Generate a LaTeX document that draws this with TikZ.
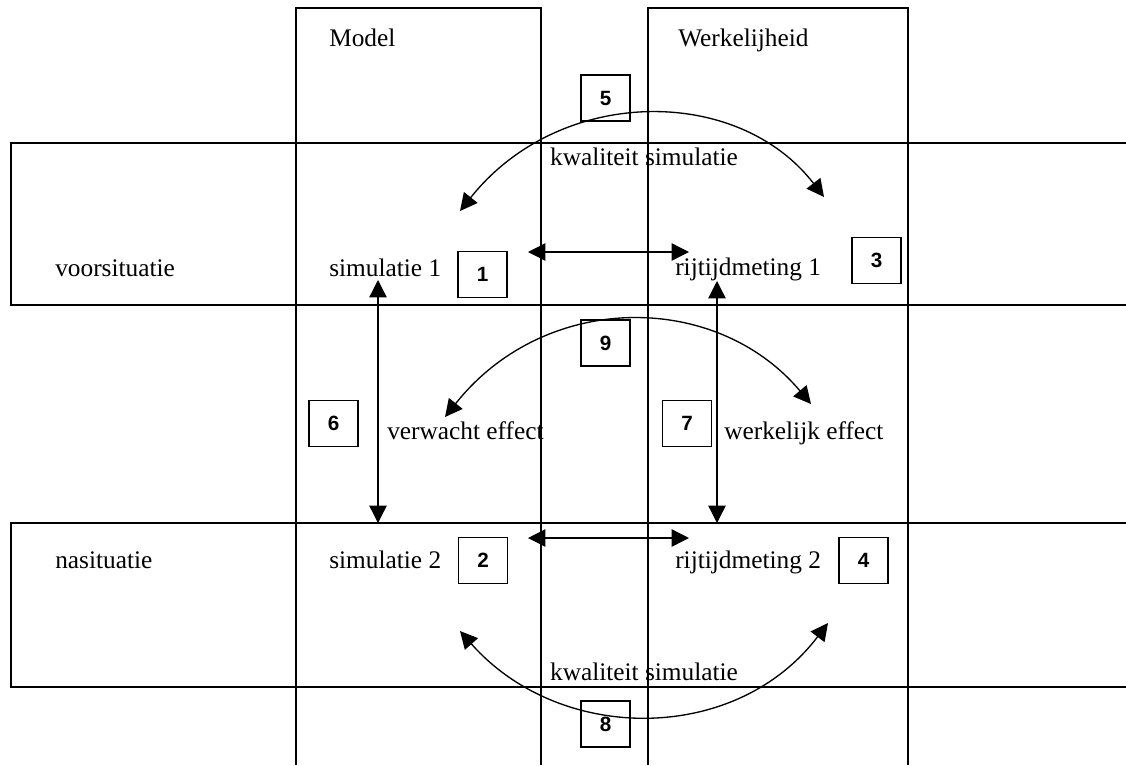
\documentclass[tikz,border=0pt]{standalone}
\usepackage{fontspec}
\setmainfont{Liberation Serif}
\newfontfamily\numfont{Liberation Sans}
\usetikzlibrary{arrows.meta}
\begin{document}
\begin{tikzpicture}[x=0.75pt,y=-0.75pt,
  frame/.style={line width=1pt},
  lbl/.style={anchor=base west,inner sep=0pt,font=\fontsize{19}{22}\selectfont},
  mid/.style={anchor=base,inner sep=0pt,font=\fontsize{19}{22}\selectfont},
  numbox/.style={draw,line width=1pt,minimum width=36.75pt,minimum height=34.5pt,
    inner sep=0pt,font=\numfont\bfseries\fontsize{15.5}{17}\selectfont},
  link/.style={line width=1pt,
    {Triangle[length=13pt,width=13pt]}-{Triangle[length=13pt,width=13pt]}}
]
\useasboundingbox (0,0) rectangle (1126,765);

% columns (open at the bottom)
\draw[frame] (296,765) -- (296,8) -- (541,8) -- (541,765);
\draw[frame] (648,765) -- (648,8) -- (908,8) -- (908,765);
% rows (open at the right)
\draw[frame] (1126,143) -- (11,143) -- (11,305) -- (1126,305);
\draw[frame] (1126,523) -- (11,523) -- (11,687) -- (1126,687);

% headings
\node[lbl] (model) at (329,46.7) {Model};
\node[lbl] (werk) at (678,46.7) {Werkelijheid};
\node[lbl] (voor) at (55,276) {voorsituatie};
\node[lbl] (na) at (55,568) {nasituatie};

% cell texts
\node[lbl] (sim1) at (329,276) {simulatie 1};
\node[lbl] (rij1) at (675,275) {rijtijdmeting 1};
\node[lbl] (sim2) at (329,568) {simulatie 2};
\node[lbl] (rij2) at (675,568) {rijtijdmeting 2};
\node[lbl] (verw) at (387,439) {verwacht effect};
\node[lbl] (werkeff) at (724,439) {werkelijk effect};
\node[mid] (kwal1) at (644,165) {kwaliteit simulatie};
\node[mid] (kwal2) at (644,680) {kwaliteit simulatie};

% numbered boxes
\node[numbox] (n1) at (482.5,274.5) {1};
\node[numbox] (n2) at (483,560.5) {2};
\node[numbox] (n3) at (876.5,260.5) {3};
\node[numbox] (n4) at (863.5,560.5) {4};
\node[numbox] (n5) at (605.5,98) {5};
\node[numbox] (n6) at (333.5,423.5) {6};
\node[numbox] (n7) at (687,423.5) {7};
\node[numbox] (n8) at (605.5,724) {8};
\node[numbox] (n9) at (605.5,343) {9};

% arrow end points
\coordinate (h1a) at (528,252);
\coordinate (h1b) at (689,252);
\coordinate (h2a) at (528,538);
\coordinate (h2b) at (689,538);
\coordinate (v6a) at (378,280);
\coordinate (v6b) at (378,523);
\coordinate (v7a) at (717,281);
\coordinate (v7b) at (717,523);
\coordinate (c5a) at (460,211);
\coordinate (c5b) at (824,197);
\coordinate (c9a) at (445,417);
\coordinate (c9b) at (811,404);
\coordinate (c8a) at (460,631);
\coordinate (c8b) at (828,623);

% comparisons between model and reality
\draw[link] (h1a) -- (h1b);
\draw[link] (h2a) -- (h2b);
% before / after
\draw[link] (v6a) -- (v6b);
\draw[link] (v7a) -- (v7b);
% curved comparisons
\draw[link] (c5a) .. controls (560,85.3) and (738,85.3) .. (c5b);
\draw[link] (c9a) .. controls (545,291) and (716,291) .. (c9b);
\draw[link] (c8a) .. controls (560,744.3) and (736,744.3) .. (c8b);
\end{tikzpicture}
\end{document}
